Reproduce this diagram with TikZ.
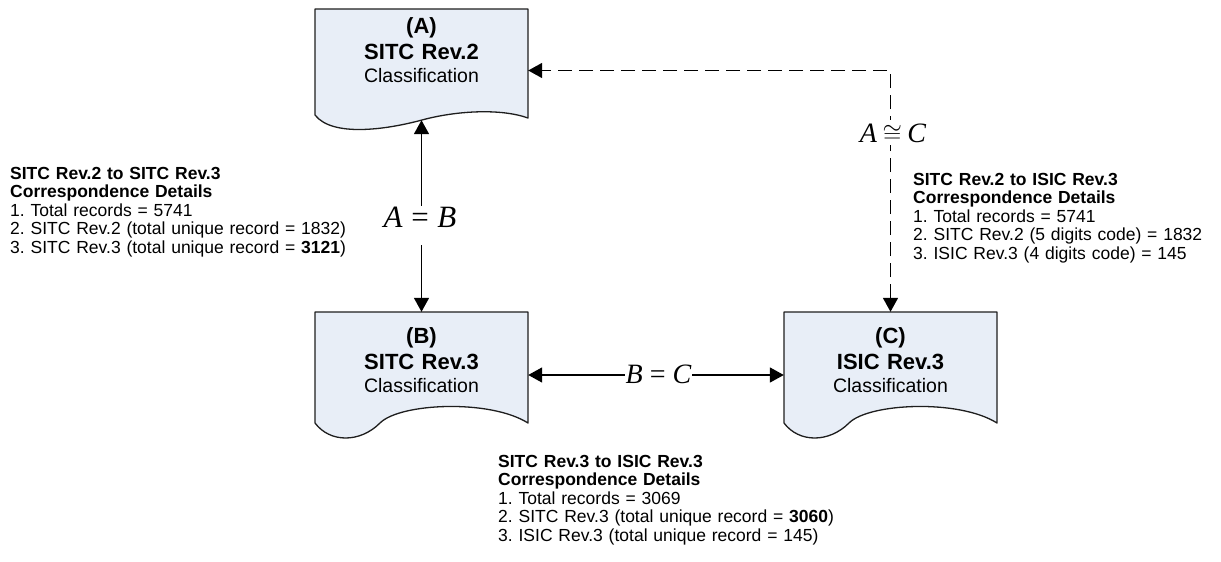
\documentclass[tikz,border=0pt]{standalone}
\usepackage{fontspec}
\setmainfont{Liberation Sans}
\newfontfamily\tms{Liberation Serif}
\usetikzlibrary{arrows.meta}
\definecolor{docfill}{RGB}{232,238,247}
\definecolor{docline}{RGB}{30,30,30}
\frenchspacing
\begin{document}
\begin{tikzpicture}[x=1pt,y=-1pt,
  frame/.style={minimum width=213pt,minimum height=111pt,inner sep=0pt},
  docshape/.style={fill=docfill,draw=docline,line width=1.3pt,line join=round},
  boxtext/.style={text width=213pt,align=center,inner sep=0pt,anchor=base,
    font=\fontsize{22}{26}\selectfont\bfseries},
  details/.style={text width=450pt,align=left,inner sep=0pt,anchor=base west,
    font=\fontsize{17.5}{18.5}\selectfont},
  link/.style={line width=1.6pt,{Triangle[length=14pt,width=15pt]}-{Triangle[length=14pt,width=15pt]}},
  dlink/.style={link,dash pattern=on 14pt off 7pt},
  eq/.style={fill=white,inner ysep=0pt,inner xsep=1pt,anchor=base,font=\fontsize{28}{30}\selectfont}
]
\useasboundingbox (0,0) rectangle (1221,562);

% invisible frames for the three documents
\node[frame] (A) at (421.5,64.5) {};
\node[frame] (B) at (421.5,367.5) {};
\node[frame] (C) at (890.5,367.5) {};

% document shapes
\filldraw[docshape,shift={(315,9)}] (0,106) -- (0,0) -- (213,0) -- (213,109)
  .. controls (185,99) and (140,102) .. (107,111)
  .. controls (70,121) and (17,128) .. (0,106) -- cycle;
\filldraw[docshape,shift={(315,312)}] (0,111) -- (0,0) -- (213,0) -- (213,111)
  .. controls (175,87) and (85,91) .. (65,111)
  .. controls (45,131) and (15,131) .. (0,111) -- cycle;
\filldraw[docshape,shift={(784,312)}] (0,111) -- (0,0) -- (213,0) -- (213,111)
  .. controls (175,87) and (85,91) .. (65,111)
  .. controls (45,131) and (15,131) .. (0,111) -- cycle;

% texts in documents
\node[boxtext] (At) at (421.5,33.5) {(A)\\SITC Rev.2\\[-2.7pt]{\fontsize{19.5}{26}\selectfont\mdseries Classification}};
\node[boxtext] (Bt) at (421.5,343.3) {(B)\\SITC Rev.3\\[-2.7pt]{\fontsize{19.5}{26}\selectfont\mdseries Classification}};
\node[boxtext] (Ct) at (890.5,343.3) {(C)\\ISIC Rev.3\\[-2.7pt]{\fontsize{19.5}{26}\selectfont\mdseries Classification}};

% connectors
\coordinate (k) at (890.5,70.5);
\coordinate (m) at (656,375);
\draw[link] (A.south) -- (B.north);
\draw[link] (B.east |- m) -- (C.west |- m);
\draw[dlink] (C.north) -- (k) -- (A.east |- k);

% relation labels
\node[eq,text height=21pt,text depth=18pt,font=\fontsize{31}{33}\selectfont] (ab) at (420,227)
  {{\tms\itshape A}\hspace{.28em}{\tms =}\hspace{.28em}{\tms\itshape B}};
\node[eq,text height=17pt,text depth=1pt] (bc) at (658.5,383)
  {{\tms\itshape B}\hspace{.25em}{\tms =}\hspace{.25em}{\tms\itshape C}};
\node[eq,text height=22pt,text depth=3pt] (ac) at (893,142)
  {{\tms\itshape A}\hspace{.2em}$\cong$\hspace{.2em}{\tms\itshape C}};

% details
\node[details] (dab) at (10,179) {\textbf{SITC Rev.2 to SITC Rev.3}\\
  \textbf{Correspondence Details}\\
  1. Total records = 5741\\
  2. SITC Rev.2 (total unique record = 1832)\\
  3. SITC Rev.3 (total unique record = \textbf{3121})};
\node[details] (dac) at (913,185) {\textbf{SITC Rev.2 to ISIC Rev.3}\\
  \textbf{Correspondence Details}\\
  1. Total records = 5741\\
  2. SITC Rev.2 (5 digits code) = 1832\\
  3. ISIC Rev.3 (4 digits code) = 145};
\node[details] (dbc) at (498,467) {\textbf{SITC Rev.3 to ISIC Rev.3}\\
  \textbf{Correspondence Details}\\
  1. Total records = 3069\\
  2. SITC Rev.3 (total unique record = \textbf{3060})\\
  3. ISIC Rev.3 (total unique record = 145)};
\end{tikzpicture}
\end{document}
